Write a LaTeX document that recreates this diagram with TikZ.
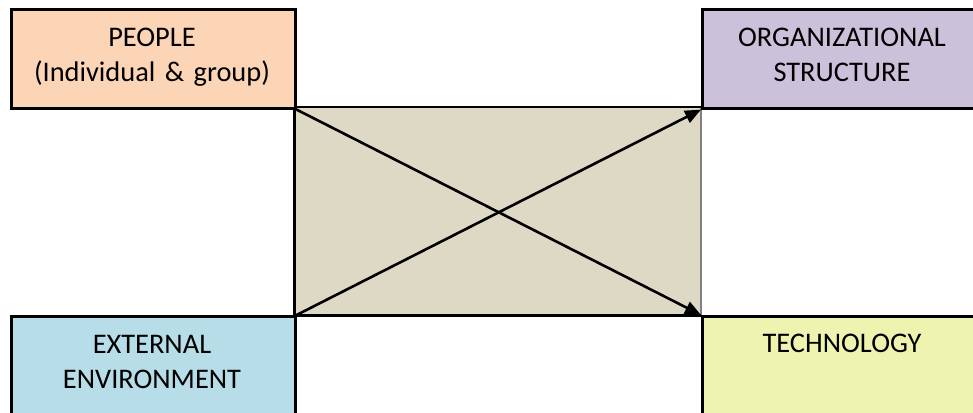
\documentclass[tikz,border=0pt]{standalone}
\usepackage{fontspec}
\setmainfont{Carlito}
\usetikzlibrary{arrows.meta}
\definecolor{peach}{HTML}{FBD5B5}
\definecolor{lavender}{HTML}{CCC1DA}
\definecolor{skyblue}{HTML}{B7DEE8}
\definecolor{paleyellow}{HTML}{EEF3B0}
\definecolor{coreclr}{HTML}{DDD9C4}
\begin{document}
\begin{tikzpicture}[x=1pt,y=-1pt,
  box/.style={draw=black, line width=2.6pt, inner sep=0pt, anchor=north west},
  lbl/.style={inner sep=0pt, align=center, text width=280pt, anchor=base,
              font=\fontsize{28.4}{35}\selectfont},
  conn/.style={line width=2.6pt, -{Triangle[length=16pt,width=13pt]}}]
\clip (0,0) rectangle (973,412);
\fill[white] (0,0) rectangle (973,412);
% central rectangle
\node[fill=coreclr, minimum width=406pt, minimum height=208pt, inner sep=0pt,
      anchor=north west] (core) at (294.5,107) {};
\draw[gray, line width=1.2pt] (core.north east) -- (core.south east);
\draw[line width=2.6pt] (core.north east) -- (core.north west)
      -- (core.south west) -- (core.south east);
% corner boxes
\node[box, fill=peach, minimum width=284pt, minimum height=99pt] (people) at (10,8) {};
\node[box, fill=lavender, minimum width=284pt, minimum height=99pt] (org) at (701,8) {};
\node[box, fill=skyblue, minimum width=284pt, minimum height=110pt] (ext) at (10,315) {};
\node[box, fill=paleyellow, minimum width=284pt, minimum height=110pt] (tech) at (701,315) {};
% labels
\node[lbl] (peopletext) at (152,47) {PEOPLE\\(Individual \& group)};
\node[lbl] (orgtext) at (842,47) {ORGANIZATIONAL\\STRUCTURE};
\node[lbl] (exttext) at (152,353) {EXTERNAL\\ENVIRONMENT};
\node[lbl] (techtext) at (842,352) {TECHNOLOGY};
% connectors
\draw[conn] (people.south east) -- (tech.north west);
\draw[conn] (ext.north east) -- (org.south west);
\end{tikzpicture}
\end{document}
